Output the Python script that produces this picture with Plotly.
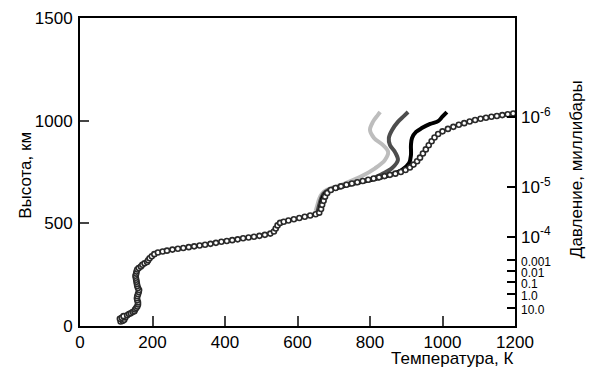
import plotly.graph_objects as go

# Main measured profile (temperature K, altitude km)
main_T = [112,118,122,110,115,125,120,130,135,140,145,150,152,155,158,160,160,158,157,158,160,162,163,160,158,157,156,155,154,153,155,156,158,162,168,172,178,185,188,192,198,205,215,228,240,255,270,285,300,315,330,345,360,375,390,405,420,435,450,465,480,495,510,525,535,540,545,552,562,575,590,605,620,635,650,660,665,668,672,676,682,692,705,720,735,750,765,780,795,810,825,840,855,870,885,898,910,920,930,938,946,954,962,970,978,988,1000,1015,1030,1045,1060,1075,1090,1105,1120,1135,1150,1165,1180,1195]
main_alt = [22,25,30,35,40,42,48,52,58,62,68,72,80,88,95,105,115,125,135,145,155,165,175,185,195,205,215,225,235,245,255,265,275,282,290,298,305,312,320,330,340,350,358,363,367,372,376,380,384,388,392,396,400,405,410,414,418,422,427,431,435,439,444,450,460,475,490,502,508,514,520,526,532,538,544,552,570,590,610,630,648,662,672,680,688,694,700,706,712,718,724,730,736,742,750,760,772,786,802,820,840,860,880,900,918,935,948,960,970,980,988,996,1003,1009,1014,1019,1023,1027,1031,1035]

# Model profiles
light_T = [650,655,660,668,680,700,730,772,814,841,850,836,811,800,808,822,828]
light_alt = [560,590,620,645,662,676,694,725,768,808,847,881,916,955,994,1028,1042]
dark_T = [655,660,665,672,685,705,740,800,833,861,877,869,855,852,861,877,894,905]
dark_alt = [555,590,620,645,662,674,692,714,740,769,808,847,881,916,955,994,1023,1042]
black_T = [660,664,668,676,690,710,760,820,855,888,908,913,913,916,927,943,966,988,999,1012]
black_alt = [555,590,620,645,660,672,695,718,735,760,794,833,881,916,945,964,984,998,1018,1042]

# Pressure axis (altitude km of each pressure level) and labels
p_major_alt = [1018, 678, 435]
p_major_txt = ["10<sup>-6</sup>", "10<sup>-5</sup>", "10<sup>-4</sup>"]
p_minor_alt = [321, 268, 214, 156, 88]
p_minor_txt = ["0.001", "0.01", "0.1", "1.0", "10.0"]

x_ticks = [0, 200, 400, 600, 800, 1000, 1200]
y_ticks = [0, 500, 1000, 1500]

FONT = "Liberation Sans, Arial, sans-serif"

fig = go.Figure()
for T, A, col in [(light_T, light_alt, "#bdbdbd"), (dark_T, dark_alt, "#4d4d4d"), (black_T, black_alt, "#000000")]:
    fig.add_trace(go.Scatter(x=T, y=A, mode="lines", line=dict(color=col, width=4, shape="spline"),
                             showlegend=False, hoverinfo="skip"))
fig.add_trace(go.Scatter(x=main_T, y=main_alt, mode="markers",
                         marker=dict(symbol="circle", size=5, color="white",
                                     line=dict(color="#2a2a2a", width=1.6)),
                         showlegend=False))

tick_txt = [f'<span style="font-size:17px">{t}</span>' for t in p_major_txt] + \
           [f'<span style="font-size:12px">{t}</span>' for t in p_minor_txt]
fig.add_trace(go.Scatter(x=[None], y=[None], yaxis="y2", showlegend=False))

fig.update_layout(
    width=600, height=379,
    margin=dict(l=72, r=93, t=10, b=61),
    paper_bgcolor="white", plot_bgcolor="white",
    font=dict(family=FONT, size=17, color="black"),
    xaxis=dict(range=[0, 1200], tickvals=x_ticks, ticks="inside", ticklen=10, tickwidth=1.5,
               showline=True, linewidth=2, linecolor="black", mirror=True, showgrid=False,
               zeroline=False, tickfont=dict(size=17), automargin=False),
    yaxis=dict(range=[0, 1500], tickvals=y_ticks, ticks="inside", ticklen=9, tickwidth=1.5,
               showline=True, linewidth=2, linecolor="black", mirror=True, showgrid=False,
               zeroline=False, tickfont=dict(size=17), ticklabelstandoff=2, automargin=False),
    yaxis2=dict(range=[0, 1500], overlaying="y", side="right",
                tickvals=p_major_alt + p_minor_alt, ticktext=tick_txt,
                ticks="inside", ticklen=8, tickwidth=1.5, tickcolor="black",
                showline=False, showgrid=False, zeroline=False, ticklabelstandoff=5,
                automargin=False),
    annotations=[
        dict(text="Высота, км", x=-0.127, y=0.49, xref="paper", yref="paper", showarrow=False,
             textangle=-90, font=dict(size=17), xanchor="center", yanchor="middle"),
        dict(text="Температура, К", x=1, y=-0.105, xref="paper", yref="paper", showarrow=False,
             font=dict(size=17), xanchor="right", yanchor="middle"),
        dict(text="Давление, миллибары", x=1.143, y=0.51, xref="paper", yref="paper", showarrow=False,
             textangle=-90, font=dict(size=17), xanchor="center", yanchor="middle"),
    ],
)

fig.write_html("out.html")
